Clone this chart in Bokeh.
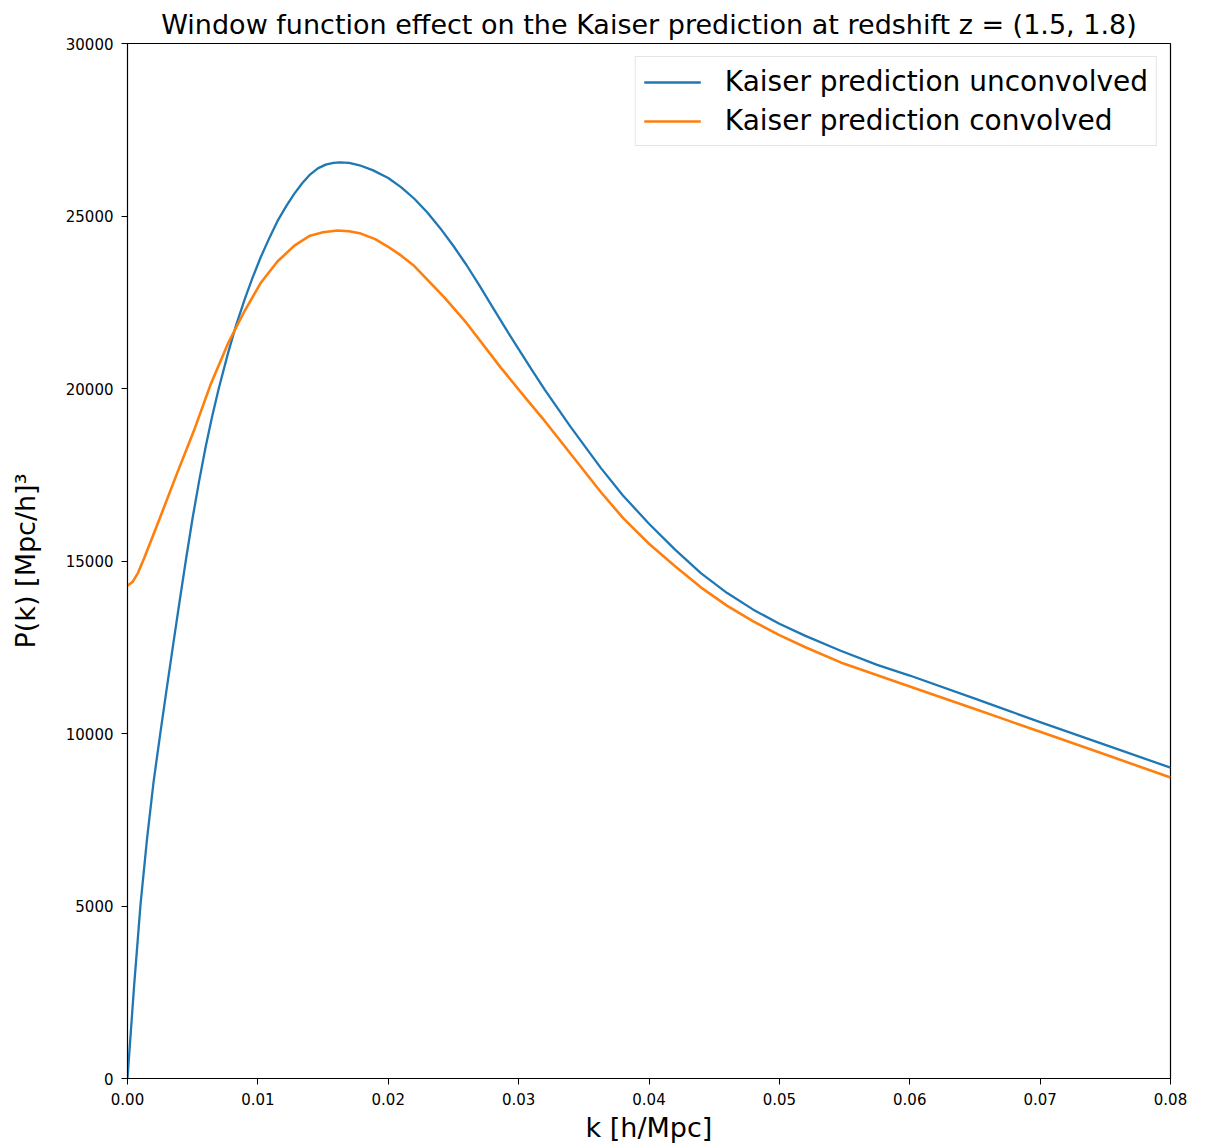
from bokeh.plotting import figure
from bokeh.models import Legend, LegendItem, PrintfTickFormatter, FixedTicker, Range1d
from bokeh.embed import file_html
from bokeh.resources import INLINE

# Kaiser power spectrum, unconvolved
k_unconv = [0.0, 0.0005, 0.001, 0.0015, 0.002, 0.0025, 0.003, 0.0035, 0.004, 0.0045,
            0.005, 0.0055, 0.006, 0.0065, 0.007, 0.0077, 0.0083, 0.0090, 0.0096,
            0.0102, 0.0109, 0.0115, 0.0122, 0.0128, 0.0134, 0.0140, 0.0146, 0.0152,
            0.0158, 0.0163, 0.0170, 0.0178, 0.0188, 0.0200, 0.0210, 0.0220, 0.0230,
            0.0240, 0.0250, 0.0260, 0.0270, 0.0280, 0.0290, 0.0300, 0.0310, 0.0320,
            0.0340, 0.0363, 0.0380, 0.0400, 0.0420, 0.0440, 0.0460, 0.0480, 0.0500,
            0.0520, 0.0547, 0.0575, 0.0600, 0.0650, 0.0675, 0.0700, 0.0750, 0.0800]
pk_unconv = [0, 2650, 5050, 6950, 8600, 9960, 11280, 12570, 13840, 15080,
             16260, 17330, 18320, 19200, 20000, 21010, 21800, 22600, 23220,
             23790, 24380, 24850, 25300, 25650, 25950, 26200, 26380, 26490,
             26540, 26555, 26540, 26470, 26330, 26100, 25830, 25500, 25100,
             24640, 24130, 23580, 22980, 22360, 21740, 21140, 20550, 19970,
             18880, 17700, 16900, 16080, 15330, 14640, 14070, 13590, 13180,
             12830, 12400, 11990, 11680, 11010, 10670, 10330, 9670, 9010]

# Kaiser power spectrum, convolved with the survey window
k_conv = [0.0, 0.0004, 0.0008, 0.0013, 0.0025, 0.0038, 0.0051, 0.0064, 0.0077, 0.0090,
          0.0102, 0.0115, 0.0128, 0.0140, 0.0150, 0.0161, 0.0170, 0.0179, 0.0190,
          0.0199, 0.0210, 0.0220, 0.0243, 0.0260, 0.0286, 0.0307, 0.0320, 0.0340,
          0.0363, 0.0380, 0.0400, 0.0420, 0.0440, 0.0460, 0.0480, 0.0500, 0.0520,
          0.0547, 0.0600, 0.0650, 0.0675, 0.0700, 0.0750, 0.0800]
pk_conv = [14280, 14400, 14650, 15100, 16260, 17540, 18780, 20140, 21300, 22260,
           23050, 23680, 24140, 24430, 24530, 24580, 24560, 24490, 24330,
           24130, 23850, 23550, 22640, 21900, 20620, 19650, 19060, 18100,
           17000, 16250, 15500, 14850, 14230, 13700, 13250, 12850, 12500,
           12060, 11365, 10710, 10380, 10050, 9390, 8725]

x_ticks = [0.0, 0.01, 0.02, 0.03, 0.04, 0.05, 0.06, 0.07, 0.08]
y_ticks = [0, 5000, 10000, 15000, 20000, 25000, 30000]

FONT = "DejaVu Sans"

p = figure(width=1210, height=1148, output_backend="svg", toolbar_location=None,
           x_range=Range1d(0, 0.08), y_range=Range1d(0, 30000),
           min_border_left=127, min_border_right=40, min_border_top=43,
           min_border_bottom=70,
           title="Window function effect on the Kaiser prediction at redshift z = (1.5, 1.8)")

p.title.text_font = FONT
p.title.text_font_size = "27px"
p.title.text_font_style = "normal"
p.title.align = "center"
p.title.text_color = "black"
p.title.standoff = 8

p.grid.visible = False
p.outline_line_color = "black"
p.outline_line_width = 1.2
p.background_fill_color = "white"
p.border_fill_color = "white"

blue = p.line(k_unconv, pk_unconv, line_color="#1f77b4", line_width=2.3,
              line_join="round")
orange = p.line(k_conv, pk_conv, line_color="#ff7f0e", line_width=2.6,
                line_join="round")

for ax in (p.xaxis, p.yaxis):
    ax.axis_line_color = "black"
    ax.major_tick_in = 0
    ax.major_tick_out = 6
    ax.minor_tick_out = 0
    ax.minor_tick_in = 0
    ax.major_label_text_font = FONT
    ax.major_label_text_font_size = "15px"
    ax.major_label_text_color = "black"
    ax.major_label_standoff = 8
    ax.axis_label_text_font = FONT
    ax.axis_label_text_font_size = "27px"
    ax.axis_label_text_font_style = "normal"
    ax.axis_label_text_color = "black"

p.xaxis.ticker = FixedTicker(ticks=x_ticks)
p.xaxis.formatter = PrintfTickFormatter(format="%.2f")
p.yaxis.ticker = FixedTicker(ticks=y_ticks)
p.xaxis.axis_label = "k [h/Mpc]"
p.yaxis.axis_label = "P(k) [Mpc/h]³"
p.xaxis.axis_label_standoff = 4
p.yaxis.axis_label_standoff = 22

legend = Legend(items=[LegendItem(label="Kaiser prediction unconvolved", renderers=[blue]),
                       LegendItem(label="Kaiser prediction convolved", renderers=[orange])],
                location="top_right")
legend.label_text_font = FONT
legend.label_text_font_size = "28px"
legend.label_text_color = "black"
legend.glyph_width = 57
legend.glyph_height = 28
legend.label_height = 28
legend.spacing = 6
legend.padding = 8
legend.label_standoff = 24
legend.margin = 13
legend.border_line_color = "#cccccc"
legend.border_line_width = 1.2
legend.background_fill_alpha = 0.9
p.add_layout(legend)

open("out.html", "w").write(file_html(p, INLINE))
